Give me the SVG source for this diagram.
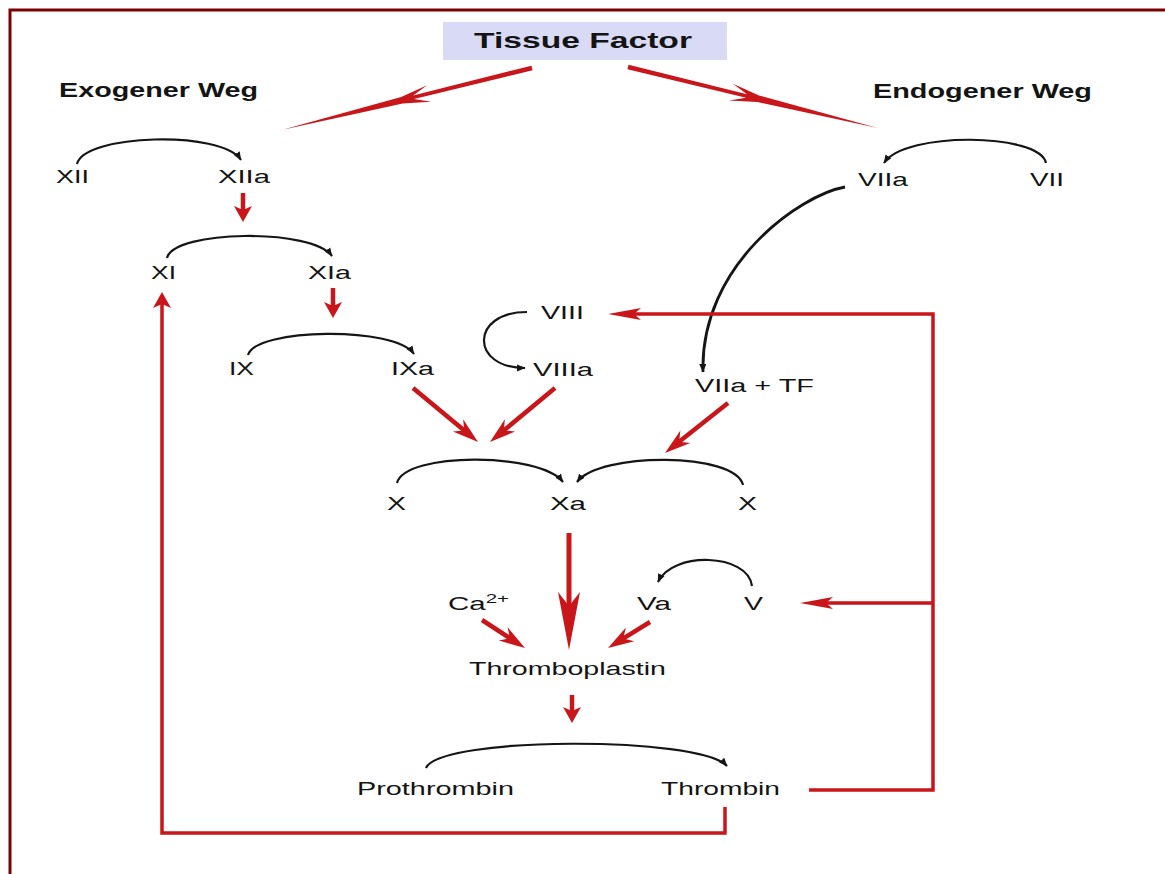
<svg xmlns="http://www.w3.org/2000/svg" width="1165" height="874" viewBox="0 0 1165 874">
<style>
text{font-family:"Liberation Sans",Arial,sans-serif;fill:#141414;}
.t{font-size:18px;}
.tl{font-size:19px;}
.b{font-size:19.5px;font-weight:bold;}
.blk{fill:none;stroke:#151515;stroke-width:2.2;}
.red{fill:none;stroke:#c8161a;stroke-width:4.5;}
.fb{fill:none;stroke:#c8161a;stroke-width:3.5;}
.rf{fill:#c8161a;}
</style>
<defs>
<marker id="ab" viewBox="0 -4 9 8" refX="8" refY="0" markerWidth="9" markerHeight="8" markerUnits="userSpaceOnUse" orient="auto">
<path d="M0,-3.5 L8.5,0 L0,3.5 Z" fill="#151515"/>
</marker>
<marker id="hd" viewBox="-27 -9 28 18" refX="-12" refY="0" markerWidth="28" markerHeight="18" markerUnits="userSpaceOnUse" orient="auto">
<path d="M0,0 L-26,-8 L-18,0 L-26,8 Z" fill="#c8161a"/>
</marker>
<marker id="hs" viewBox="-17 -10 18 20" refX="-8" refY="0" markerWidth="18" markerHeight="20" markerUnits="userSpaceOnUse" orient="auto">
<path d="M0,0 L-16,-9 L-12,0 L-16,9 Z" fill="#c8161a"/>
</marker>
<marker id="hl" viewBox="-33 -7 34 14" refX="-14" refY="0" markerWidth="34" markerHeight="14" markerUnits="userSpaceOnUse" orient="auto">
<path d="M0,0 L-33,-6 L-26,0 L-33,6 Z" fill="#c8161a"/>
</marker>
</defs>
<rect x="0" y="0" width="1165" height="874" fill="#ffffff"/>
<path d="M10,874 L10,10 L1165,10" fill="none" stroke="#7d0000" stroke-width="3"/>

<g id="tissue-factor">
<rect x="443" y="22" width="284" height="38" fill="#d9dbf6"/>
<text x="474" y="48" style="font-size:21.5px;font-weight:bold" textLength="218" lengthAdjust="spacingAndGlyphs">Tissue Factor</text>
</g>
<g id="exogener-weg"><text class="b" x="59" y="97" textLength="199" lengthAdjust="spacingAndGlyphs">Exogener Weg</text></g>
<g id="endogener-weg"><text class="b" x="873" y="98" textLength="219" lengthAdjust="spacingAndGlyphs">Endogener Weg</text></g>

<g id="n-XII"><text class="t" x="56" y="183" textLength="33" lengthAdjust="spacingAndGlyphs">XII</text></g>
<g id="n-XIIa"><text class="t" x="218" y="183" textLength="52" lengthAdjust="spacingAndGlyphs">XIIa</text></g>
<g id="n-XI"><text class="t" x="151" y="279" textLength="25" lengthAdjust="spacingAndGlyphs">XI</text></g>
<g id="n-XIa"><text class="t" x="308" y="279" textLength="43" lengthAdjust="spacingAndGlyphs">XIa</text></g>
<g id="n-IX"><text class="t" x="229" y="375" textLength="25" lengthAdjust="spacingAndGlyphs">IX</text></g>
<g id="n-IXa"><text class="t" x="391" y="375" textLength="43" lengthAdjust="spacingAndGlyphs">IXa</text></g>
<g id="n-VIII"><text class="t" x="541" y="319" textLength="43" lengthAdjust="spacingAndGlyphs">VIII</text></g>
<g id="n-VIIIa"><text class="t" x="533" y="376" textLength="60" lengthAdjust="spacingAndGlyphs">VIIIa</text></g>
<g id="n-VIIa"><text class="t" x="858" y="186" textLength="50" lengthAdjust="spacingAndGlyphs">VIIa</text></g>
<g id="n-VII"><text class="t" x="1030" y="186" textLength="34" lengthAdjust="spacingAndGlyphs">VII</text></g>
<g id="n-VIIaTF"><text class="t" x="695" y="392" textLength="119" lengthAdjust="spacingAndGlyphs">VIIa + TF</text></g>
<g id="n-X1"><text class="t" x="387" y="510" textLength="19" lengthAdjust="spacingAndGlyphs">X</text></g>
<g id="n-Xa"><text class="t" x="550" y="510" textLength="36" lengthAdjust="spacingAndGlyphs">Xa</text></g>
<g id="n-X2"><text class="t" x="738" y="510" textLength="19" lengthAdjust="spacingAndGlyphs">X</text></g>
<g id="n-Ca"><text class="t" x="448" y="610" textLength="61" lengthAdjust="spacingAndGlyphs">Ca<tspan dy="-7" style="font-size:12.5px">2+</tspan></text></g>
<g id="n-Va"><text class="t" x="637" y="610" textLength="34" lengthAdjust="spacingAndGlyphs">Va</text></g>
<g id="n-V"><text class="t" x="744" y="610" textLength="19" lengthAdjust="spacingAndGlyphs">V</text></g>
<g id="n-Thromboplastin"><text class="tl" x="469" y="675" textLength="197" lengthAdjust="spacingAndGlyphs">Thromboplastin</text></g>
<g id="n-Prothrombin"><text class="tl" x="357" y="795" textLength="157" lengthAdjust="spacingAndGlyphs">Prothrombin</text></g>
<g id="n-Thrombin"><text class="tl" x="661" y="795" textLength="119" lengthAdjust="spacingAndGlyphs">Thrombin</text></g>

<g id="connectors">
<g transform="translate(532,68) rotate(166.07)">
<polygon class="rf" points="0,-2.4 122,-1.8 106,-8.5 134,-3.4 257,0 134,3.4 106,8.5 122,1.8 0,2.4"/>
</g>
<g transform="translate(628,67) rotate(13.71)">
<polygon class="rf" points="0,-2.4 122,-1.8 106,-8.5 134,-3.4 257,0 134,3.4 106,8.5 122,1.8 0,2.4"/>
</g>
<path class="blk" marker-end="url(#ab)" d="M77,164 C84,134 222,130 241,160"/>
<path class="blk" marker-end="url(#ab)" d="M167,258 C174,230 312,228 332,256"/>
<path class="blk" marker-end="url(#ab)" d="M248,355 C256,328 395,326 414,354"/>
<path class="blk" marker-end="url(#ab)" d="M1046,163 C1040,133 905,131 884,163"/>
<path class="blk" marker-end="url(#ab)" d="M527,312 C470,312 470,368 525,368"/>
<path class="blk" marker-end="url(#ab)" d="M397,483 C405,452 540,452 563,482"/>
<path class="blk" marker-end="url(#ab)" d="M743,485 C735,452 600,452 577,482"/>
<path class="blk" marker-end="url(#ab)" d="M752,586 C748,553 672,551 658,582"/>
<path class="blk" marker-end="url(#ab)" d="M426,768 C440,736 700,736 727,766"/>
<path class="blk" style="stroke-width:2.8" marker-end="url(#ab)" d="M845,187 C800,195 700,265 703,372"/>
<path class="red" marker-end="url(#hs)" d="M243,193 L243,214"/>
<path class="red" marker-end="url(#hs)" d="M333,288 L333,310"/>
<path class="red" marker-end="url(#hs)" d="M572,695 L572,715"/>
<path class="red" marker-end="url(#hd)" d="M413,388 L468.8,434.3"/>
<path class="red" marker-end="url(#hd)" d="M555,388 L499.2,434.3"/>
<path class="red" marker-end="url(#hd)" d="M728,403 L674.4,445.5"/>
<path class="red" marker-end="url(#hd)" d="M482,620 L514.9,641.5"/>
<path class="red" marker-end="url(#hd)" d="M650,622 L618.2,641.7"/>
<path class="red" style="stroke-width:5" d="M569,533 L569,610"/>
<polygon class="rf" points="569,650 558,592 569,606 580,592"/>
<path class="fb" marker-end="url(#hs)" d="M725,807 L725,833 L162,833 L162,300"/>
<path class="fb" marker-end="url(#hl)" d="M809,790 L933,790 L933,314 L622,314"/>
<path class="fb" marker-end="url(#hl)" d="M933,603 L814,603"/>
</g>
</svg>
